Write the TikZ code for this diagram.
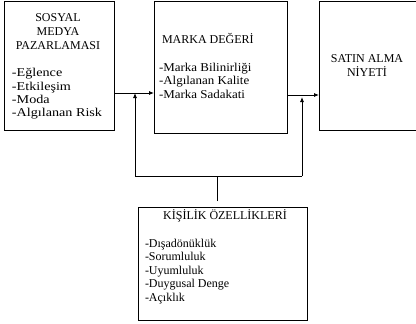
\documentclass[tikz,border=0pt]{standalone}
\usepackage{fontspec}
\setmainfont{Liberation Serif}
\newfontfamily\widefont[FakeStretch=1.18]{Liberation Serif}
\newfontfamily\semiwidefont[FakeStretch=1.08]{Liberation Serif}
\usetikzlibrary{arrows.meta,calc}
\begin{document}
\begin{tikzpicture}[x=1pt,y=-1pt,
  boxx/.style={draw=black,line width=0.8pt,inner sep=0pt,outer sep=0pt},
  txt/.style={inner sep=0pt,outer sep=0pt,font=\fontsize{12}{13.5}\selectfont,align=left},
  widetxt/.style={txt,font=\widefont\fontsize{12}{13.5}\selectfont},
  semitxt/.style={txt,font=\semiwidefont\fontsize{12}{13.5}\selectfont},
  ttl/.style={inner sep=0pt,outer sep=0pt,font=\fontsize{12}{14}\selectfont,align=center},
  conn/.style={line width=0.8pt},
  arr/.style={conn,-{Latex[length=5pt,width=4pt]}}]
\useasboundingbox (0,0) rectangle (416,324);
% boxes
\node[boxx,anchor=north west,minimum width=110pt,minimum height=129pt] (b1) at (4,1) {};
\node[boxx,anchor=north west,minimum width=133pt,minimum height=132pt] (b2) at (154,1) {};
\node[boxx,anchor=north west,minimum width=110pt,minimum height=129pt] (b3) at (319,1) {};
\node[boxx,anchor=north west,minimum width=169pt,minimum height=113pt] (b4) at (138,207) {};
% texts (base anchor = baseline of last line)
\node[ttl,anchor=base] (t1) at (58,49) {SOSYAL\\MEDYA\\PAZARLAMASI};
\node[widetxt,anchor=base west] (l1) at (12,117) {-Eğlence\\-Etkileşim\\-Moda\\-Algılanan Risk};
\node[txt,anchor=base west] (t2) at (162,43) {MARKA DEĞERİ};
\node[semitxt,anchor=base west] (l2) at (159,98) {-Marka Bilinirliği\\-Algılanan Kalite\\-Marka Sadakati};
\node[ttl,anchor=base] (t3) at (367,77) {SATIN ALMA\\NİYETİ};
\node[txt,anchor=base] (t4) at (225,219) {KİŞİLİK ÖZELLİKLERİ};
\node[txt,anchor=base west] (l4) at (145,301) {-Dışadönüklük\\-Sorumluluk\\-Uyumluluk\\-Duygusal Denge\\-Açıklık};
% connectors
\coordinate (p1) at (b1.east |- 0,93);
\coordinate (p2) at (b2.east |- 0,95);
\coordinate (hl) at (135,176);
\coordinate (hr) at (302,176);
\coordinate (hc) at (217,176);
\coordinate (hb) at (217,201);
\draw[arr] (p1) -- (p1 -| b2.west);
\draw[arr] (p2) -- (p2 -| b3.west);
\draw[conn] (hl) -- (hr);
\draw[arr] (hl) -- (hl |- p1);
\draw[arr] (hr) -- ($(hr |- p2)+(0,2)$);
\draw[conn] (hb) -- (hc);
\end{tikzpicture}
\end{document}
